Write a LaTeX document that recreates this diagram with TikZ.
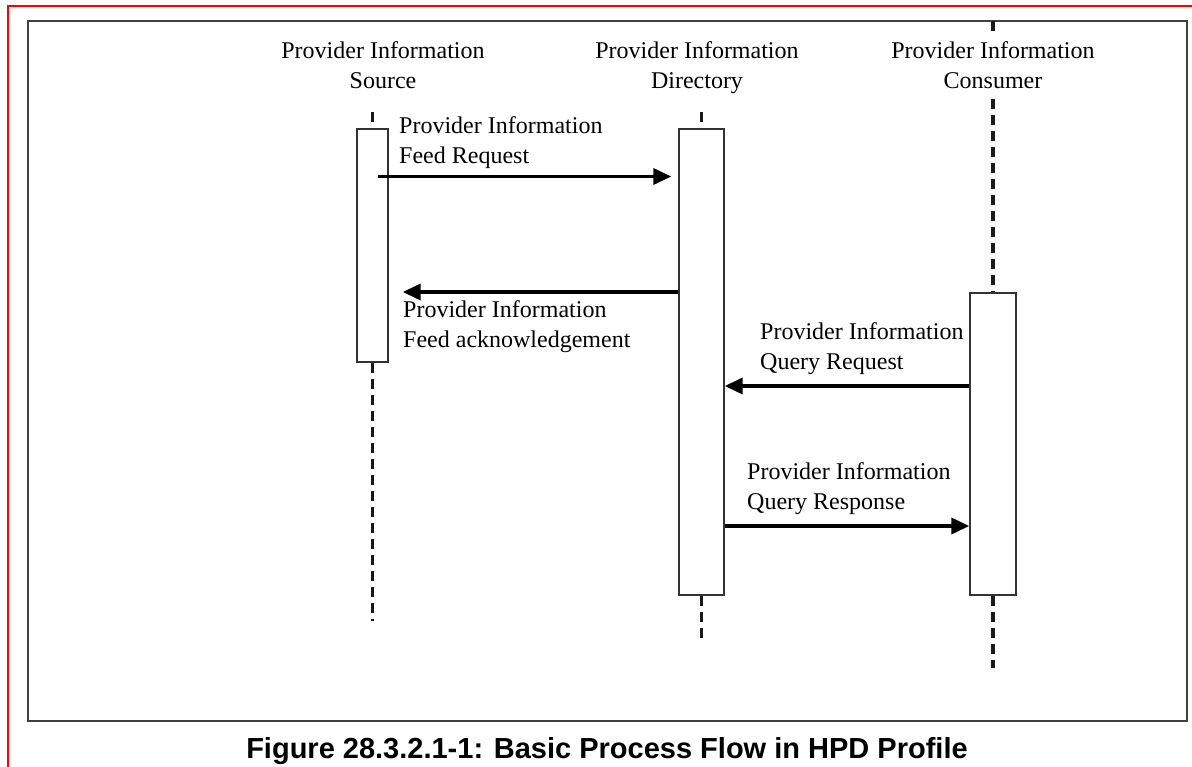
\documentclass[tikz,border=0pt]{standalone}
\usepackage{fontspec}
\setmainfont{Liberation Serif}
\newfontfamily\captionfont{Liberation Sans}
\usetikzlibrary{arrows.meta}

\begin{document}
\begin{tikzpicture}[x=1pt,y=-1pt]
	\tikzset{
	  actbox/.style={draw=black!80,line width=0.5mm,fill=white,inner sep=0mm},
	  lifeline/.style={black!90,line width=1.2mm,dash pattern=on 10pt off 6pt},
	  msg/.style={black,line width=1.3mm,-{Triangle[length=18pt,width=16pt]}},
	  head/.style={align=center,inner sep=0mm,anchor=north,font=\fontsize{24}{30}\selectfont},
	  note/.style={align=left,inner sep=0mm,anchor=north west,font=\fontsize{24}{30}\selectfont},
	}
	\useasboundingbox (0,0) rectangle (1192,767);

        %PAGE EDGE
        \draw[red,line width=0.6mm] (8,767) -- (8,6) -- (1192,6);
        %FRAME
        \draw[black!75,line width=0.5mm] (28,21) rectangle (1187,721);

        %HEADS
        \node[head] (srchead) at (383,41) {Provider Information\\Source};
        \node[head] (dirhead) at (697,41) {Provider Information\\Directory};
        \node[head] (conhead) at (993,41) {Provider Information\\Consumer};

        %ACTIVATION BOXES
        \path (372.5,245.5) node[actbox,minimum width=31,minimum height=233] (src) {}
              (701.5,362) node[actbox,minimum width=45,minimum height=466] (dir) {}
              (993,444) node[actbox,minimum width=46,minimum height=302] (con) {};

        %LIFELINES
        \draw[lifeline] ([yshift=16]src.north) -- (src.north);
        \draw[lifeline] (src.south) -- ([yshift=-258]src.south);
        \draw[lifeline] ([yshift=16]dir.north) -- (dir.north);
        \draw[lifeline] (dir.south) -- ([yshift=-48]dir.south);
        \draw[lifeline] (con.north |- 0,21) -- (con.north |- 0,34);
        \draw[lifeline] ([yshift=193]con.north) -- (con.north);
        \draw[lifeline] (con.south) -- ([yshift=-72]con.south);

        %MESSAGES
        \coordinate (lv1) at (0,176.5);
        \coordinate (lv2) at (0,292);
        \coordinate (lv3) at (0,386);
        \coordinate (lv4) at (0,526);
        \draw[msg] ([xshift=5.5]src.center |- lv1) -- ([xshift=-7]dir.west |- lv1);
        \draw[msg] (dir.west |- lv2) -- ([xshift=14]src.east |- lv2);
        \draw[msg] (con.west |- lv3) -- (dir.east |- lv3);
        \draw[msg] (dir.east |- lv4) -- (con.west |- lv4);

        \node[note] (feedreq) at (399,116) {Provider Information\\Feed Request};
        \node[note] (feedack) at (403,300) {Provider Information\\Feed acknowledgement};
        \node[note] (queryreq) at (760,322) {Provider Information\\Query Request};
        \node[note] (queryresp) at (747,462) {Provider Information\\Query Response};

        %CAPTION
        \node[anchor=base,inner sep=0mm,font=\captionfont\bfseries\fontsize{29}{34}\selectfont] (caption) at (607,758) {Figure 28.3.2.1-1: Basic Process Flow in HPD Profile};
\end{tikzpicture}
\end{document}
